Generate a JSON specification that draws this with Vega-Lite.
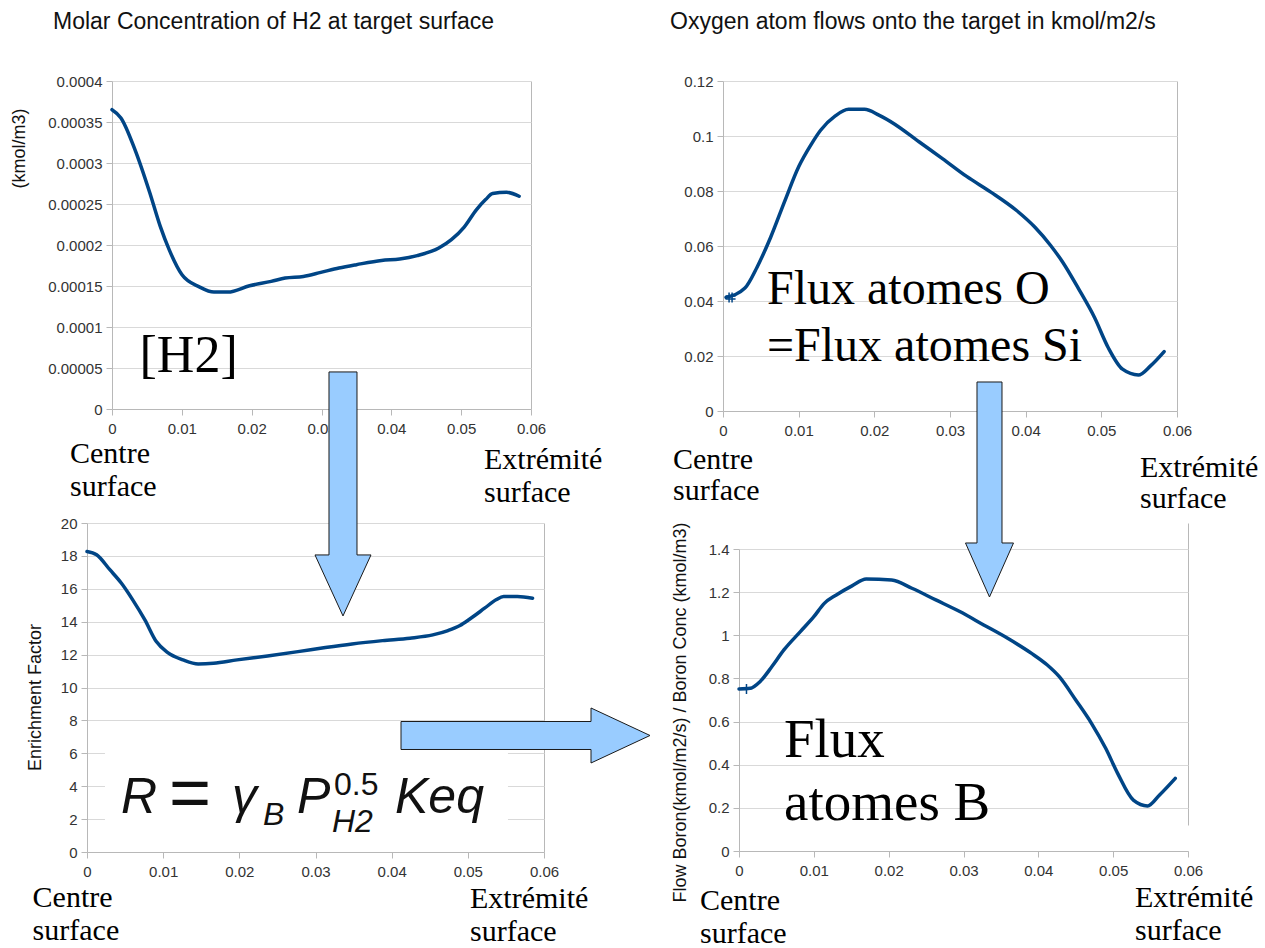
{
  "$schema": "https://vega.github.io/schema/vega-lite/v6.json",
  "autosize": {"type": "none"},
  "padding": {"left": 87, "top": 81, "right": 1178, "bottom": 867},
  "background": "white",
  "columns": 2,
  "spacing": {"row": 112, "column": 179},
  "bounds": "flush",
  "datasets": {
    "h2": [
      {"x": 0, "y": 0.000365}, {"x": 0.00128, "y": 0.000355}, {"x": 0.0033, "y": 0.000316}, {"x": 0.0054, "y": 0.000264},
      {"x": 0.0069, "y": 0.000223}, {"x": 0.0082, "y": 0.000194}, {"x": 0.01, "y": 0.000164}, {"x": 0.0125, "y": 0.000149},
      {"x": 0.0146, "y": 0.0001426}, {"x": 0.0166, "y": 0.0001426}, {"x": 0.0197, "y": 0.0001503}, {"x": 0.0228, "y": 0.0001556},
      {"x": 0.0248, "y": 0.0001597}, {"x": 0.0274, "y": 0.0001617}, {"x": 0.0299, "y": 0.0001666}, {"x": 0.0325, "y": 0.0001719},
      {"x": 0.035, "y": 0.000176}, {"x": 0.0386, "y": 0.0001812}, {"x": 0.0412, "y": 0.0001829}, {"x": 0.0437, "y": 0.000187},
      {"x": 0.0468, "y": 0.0001963}, {"x": 0.0486, "y": 0.0002065}, {"x": 0.0504, "y": 0.0002216}, {"x": 0.0522, "y": 0.0002432},
      {"x": 0.0535, "y": 0.0002554}, {"x": 0.0545, "y": 0.0002627}, {"x": 0.0565, "y": 0.0002643}, {"x": 0.0583, "y": 0.0002594}
    ],
    "o2": [
      {"x": 0.0004, "y": 0.0413}, {"x": 0.0029, "y": 0.0447}, {"x": 0.0045, "y": 0.0523}, {"x": 0.0063, "y": 0.0632},
      {"x": 0.0082, "y": 0.0766}, {"x": 0.01, "y": 0.0888}, {"x": 0.0116, "y": 0.0967}, {"x": 0.0129, "y": 0.1021},
      {"x": 0.0148, "y": 0.1072}, {"x": 0.0166, "y": 0.1097}, {"x": 0.0187, "y": 0.1097}, {"x": 0.0206, "y": 0.1076},
      {"x": 0.0227, "y": 0.1043}, {"x": 0.0259, "y": 0.0979}, {"x": 0.029, "y": 0.0918}, {"x": 0.0322, "y": 0.0853},
      {"x": 0.0354, "y": 0.0796}, {"x": 0.0388, "y": 0.0729}, {"x": 0.0412, "y": 0.0669}, {"x": 0.0433, "y": 0.0602},
      {"x": 0.0449, "y": 0.0541}, {"x": 0.047, "y": 0.0444}, {"x": 0.0491, "y": 0.034}, {"x": 0.0509, "y": 0.0231},
      {"x": 0.0528, "y": 0.0152}, {"x": 0.0549, "y": 0.0131}, {"x": 0.0565, "y": 0.0164}, {"x": 0.0583, "y": 0.0216}
    ],
    "ef": [
      {"x": 0, "y": 18.27}, {"x": 0.00126, "y": 18.07}, {"x": 0.003, "y": 17.16}, {"x": 0.0045, "y": 16.35},
      {"x": 0.006, "y": 15.33}, {"x": 0.0076, "y": 14.11}, {"x": 0.0091, "y": 12.79}, {"x": 0.0106, "y": 12.12},
      {"x": 0.0126, "y": 11.68}, {"x": 0.0146, "y": 11.43}, {"x": 0.0166, "y": 11.47}, {"x": 0.0197, "y": 11.68},
      {"x": 0.0237, "y": 11.92}, {"x": 0.0277, "y": 12.18}, {"x": 0.0313, "y": 12.43}, {"x": 0.0348, "y": 12.65},
      {"x": 0.0388, "y": 12.85}, {"x": 0.0424, "y": 13.0}, {"x": 0.0454, "y": 13.2}, {"x": 0.0474, "y": 13.46},
      {"x": 0.0489, "y": 13.75}, {"x": 0.0504, "y": 14.21}, {"x": 0.0522, "y": 14.82}, {"x": 0.0537, "y": 15.33},
      {"x": 0.0547, "y": 15.53}, {"x": 0.0565, "y": 15.53}, {"x": 0.0585, "y": 15.43}
    ],
    "bf": [
      {"x": 0, "y": 0.751}, {"x": 0.0015, "y": 0.754}, {"x": 0.0028, "y": 0.785}, {"x": 0.0044, "y": 0.855},
      {"x": 0.006, "y": 0.932}, {"x": 0.0082, "y": 1.017}, {"x": 0.01, "y": 1.086}, {"x": 0.0114, "y": 1.148},
      {"x": 0.013, "y": 1.187}, {"x": 0.0151, "y": 1.229}, {"x": 0.017, "y": 1.261}, {"x": 0.0204, "y": 1.256},
      {"x": 0.0231, "y": 1.218}, {"x": 0.0263, "y": 1.164}, {"x": 0.0295, "y": 1.11}, {"x": 0.0327, "y": 1.048},
      {"x": 0.0359, "y": 0.986}, {"x": 0.0391, "y": 0.916}, {"x": 0.0412, "y": 0.862}, {"x": 0.0428, "y": 0.808},
      {"x": 0.045, "y": 0.7}, {"x": 0.0471, "y": 0.592}, {"x": 0.049, "y": 0.476}, {"x": 0.0506, "y": 0.36},
      {"x": 0.0527, "y": 0.236}, {"x": 0.0546, "y": 0.209}, {"x": 0.0562, "y": 0.26}, {"x": 0.0583, "y": 0.337}
    ]
  },
  "concat": [
    {
      "width": 444, "height": 328,
      "encoding": {
        "x": {"field": "x", "type": "quantitative",
              "scale": {"domain": [0, 0.06], "range": [25, 444], "nice": false, "zero": false},
              "axis": {"title": null, "values": [0, 0.01, 0.02, 0.03, 0.04, 0.05, 0.06], "format": ".2~f", "labelPadding": 6,
                       "grid": true, "gridColor": "#b8b8b8", "gridOpacity": {"condition": {"test": "datum.value == 0.06", "value": 1}, "value": 0}}},
        "y": {"field": "y", "type": "quantitative",
              "scale": {"domain": [0, 0.0004], "nice": false, "zero": false},
              "axis": {"title": "(kmol/m3)", "offset": -25, "titlePadding": 19, "titleY": 67,
                       "values": [0, 0.00005, 0.0001, 0.00015, 0.0002, 0.00025, 0.0003, 0.00035, 0.0004], "format": ".5~f"}}
      },
      "layer": [
        {"data": {"name": "h2"}, "mark": {"type": "line", "color": "#004586", "strokeWidth": 3.5, "interpolate": "monotone", "strokeCap": "round"}},
        {"data": {"values": [{"x": -0.008449, "y": 0.00046305, "t": "Molar Concentration of H2 at target surface"}]},
         "mark": {"type": "text", "align": "left", "baseline": "alphabetic", "font": "Liberation Sans", "fontSize": 23, "color": "#111111"},
         "encoding": {"text": {"field": "t"}}},
        {"data": {"values": [{"x": 0.00394, "y": 0.0000451, "t": "[H2]"}]},
         "mark": {"type": "text", "align": "left", "baseline": "alphabetic", "font": "Liberation Serif", "fontSize": 52, "color": "#000000"},
         "encoding": {"text": {"field": "t"}}},
        {"data": {"values": [
          {"x": -0.006014, "y": -0.0000659, "t": "Centre"}, {"x": -0.006014, "y": -0.0001061, "t": "surface"},
          {"x": 0.05327, "y": -0.0000732, "t": "Extrémité"}, {"x": 0.05327, "y": -0.0001134, "t": "surface"}]},
         "mark": {"type": "text", "align": "left", "baseline": "alphabetic", "font": "Liberation Serif", "fontSize": 30, "color": "#000000"},
         "encoding": {"text": {"field": "t"}}}
      ]
    },
    {
      "width": 454, "height": 330,
      "encoding": {
        "x": {"field": "x", "type": "quantitative",
              "scale": {"domain": [0, 0.06], "nice": false, "zero": false},
              "axis": {"title": null, "values": [0, 0.01, 0.02, 0.03, 0.04, 0.05, 0.06], "format": ".2~f", "labelPadding": 6,
                       "grid": true, "gridColor": "#b8b8b8", "gridOpacity": {"condition": {"test": "datum.value == 0.06", "value": 1}, "value": 0}}},
        "y": {"field": "y", "type": "quantitative",
              "scale": {"domain": [0, 0.12], "nice": false, "zero": false},
              "axis": {"title": null, "values": [0, 0.02, 0.04, 0.06, 0.08, 0.1, 0.12], "format": ".2~f"}}
      },
      "layer": [
        {"data": {"name": "o2"}, "mark": {"type": "line", "color": "#004586", "strokeWidth": 3.5, "interpolate": "monotone", "strokeCap": "round"}},
        {"data": {"values": [{"x": 0.001, "y": 0.0413}]},
         "mark": {"type": "point", "shape": "M-1,-0.3L1,-0.3M-1,0.3L1,0.3M-0.3,-1L-0.3,1M0.3,-1L0.3,1", "size": 100,
                  "filled": false, "stroke": "#004586", "strokeWidth": 1.5, "opacity": 1}},
        {"data": {"values": [{"x": -0.0070044, "y": 0.1388, "t": "Oxygen atom flows onto the target in kmol/m2/s"}]},
         "mark": {"type": "text", "align": "left", "baseline": "alphabetic", "font": "Liberation Sans", "fontSize": 23, "color": "#111111"},
         "encoding": {"text": {"field": "t"}}},
        {"data": {"values": [{"x": 0.005815, "y": 0.03891, "t": "Flux atomes O"}, {"x": 0.005815, "y": 0.01818, "t": "=Flux atomes Si"}]},
         "mark": {"type": "text", "align": "left", "baseline": "alphabetic", "font": "Liberation Serif", "fontSize": 48, "color": "#000000"},
         "encoding": {"text": {"field": "t"}}},
        {"data": {"values": [
          {"x": -0.006608, "y": -0.02109, "t": "Centre"}, {"x": -0.006608, "y": -0.03236, "t": "surface"},
          {"x": 0.05511, "y": -0.024, "t": "Extrémité"}, {"x": 0.05511, "y": -0.03527, "t": "surface"}]},
         "mark": {"type": "text", "align": "left", "baseline": "alphabetic", "font": "Liberation Serif", "fontSize": 30, "color": "#000000"},
         "encoding": {"text": {"field": "t"}}}
      ]
    },
    {
      "width": 457, "height": 329,
      "encoding": {
        "x": {"field": "x", "type": "quantitative",
              "scale": {"domain": [0, 0.06], "nice": false, "zero": false},
              "axis": {"title": null, "values": [0, 0.01, 0.02, 0.03, 0.04, 0.05, 0.06], "format": ".2~f", "labelPadding": 6,
                       "grid": true, "gridColor": "#b8b8b8", "gridOpacity": {"condition": {"test": "datum.value == 0.06", "value": 1}, "value": 0}}},
        "y": {"field": "y", "type": "quantitative",
              "scale": {"domain": [0, 20], "nice": false, "zero": false},
              "axis": {"title": "Enrichment Factor", "titlePadding": 16, "titleY": 174,
                       "values": [0, 2, 4, 6, 8, 10, 12, 14, 16, 18, 20], "format": "~g"}}
      },
      "layer": [
        {"data": {"values": [{"x": 0.00236, "x2": 0.05527, "y": 0.85, "y2": 6.35}]},
         "mark": {"type": "rect", "color": "#ffffff", "opacity": 1},
         "encoding": {"x2": {"field": "x2"}, "y2": {"field": "y2"}}},
        {"data": {"name": "ef"}, "mark": {"type": "line", "color": "#004586", "strokeWidth": 3.5, "interpolate": "monotone", "strokeCap": "round"}},
        {"data": {"values": [
          {"x": 0.004464, "y": 2.371, "t": "R"}, {"x": 0.019037, "y": 2.371, "t": "γ"},
          {"x": 0.02757, "y": 2.371, "t": "P"}, {"x": 0.040437, "y": 2.371, "t": "Keq"}]},
         "mark": {"type": "text", "align": "left", "baseline": "alphabetic", "font": "Liberation Sans", "fontStyle": "italic", "fontSize": 50, "color": "#111111"},
         "encoding": {"text": {"field": "t"}}},
        {"data": {"values": [{"x": 0.010766, "y": 2.15, "t": "="}]},
         "mark": {"type": "text", "align": "left", "baseline": "alphabetic", "font": "Liberation Sans", "fontSize": 72, "color": "#111111"},
         "encoding": {"text": {"field": "t"}}},
        {"data": {"values": [
          {"x": 0.023107, "y": 1.641, "t": "B"}, {"x": 0.032166, "y": 1.216, "t": "H2"}]},
         "mark": {"type": "text", "align": "left", "baseline": "alphabetic", "font": "Liberation Sans", "fontStyle": "italic", "fontSize": 32, "color": "#111111"},
         "encoding": {"text": {"field": "t"}}},
        {"data": {"values": [{"x": 0.032429, "y": 3.465, "t": "0.5"}]},
         "mark": {"type": "text", "align": "left", "baseline": "alphabetic", "font": "Liberation Sans", "fontSize": 32, "color": "#111111"},
         "encoding": {"text": {"field": "t"}}},
        {"data": {"values": [
          {"x": -0.007142, "y": -3.343, "t": "Centre"}, {"x": -0.007142, "y": -5.35, "t": "surface"},
          {"x": 0.050284, "y": -3.404, "t": "Extrémité"}, {"x": 0.050284, "y": -5.41, "t": "surface"}]},
         "mark": {"type": "text", "align": "left", "baseline": "alphabetic", "font": "Liberation Serif", "fontSize": 30, "color": "#000000"},
         "encoding": {"text": {"field": "t"}}},
        {"data": {"values": [{"x": 0.03361, "y": 14.35}]},
         "mark": {"type": "point", "shape": "M-14,-244L14,-244L14,-61L28,-61L0,0L-28,-61L-14,-61Z", "size": 4,
                  "filled": true, "fill": "#99ccff", "stroke": "#1a1a1a", "strokeWidth": 1, "opacity": 1, "fillOpacity": 1}}
      ]
    },
    {
      "width": 465, "height": 328,
      "encoding": {
        "x": {"field": "x", "type": "quantitative",
              "scale": {"domain": [0, 0.06], "range": [16, 465], "nice": false, "zero": false},
              "axis": {"title": null, "values": [0, 0.01, 0.02, 0.03, 0.04, 0.05, 0.06], "format": ".2~f", "labelPadding": 6,
                       "grid": true, "gridColor": "#b8b8b8", "gridOpacity": {"condition": {"test": "datum.value == 0.06", "value": 1}, "value": 0}}},
        "y": {"field": "y", "type": "quantitative",
              "scale": {"domain": [0, 1.4], "range": [328, 26], "nice": false, "zero": false},
              "axis": {"title": "Flow Boron(kmol/m2/s) / Boron Conc (kmol/m3)", "offset": -16, "titlePadding": 19, "titleY": 189,
                       "values": [0, 0.2, 0.4, 0.6, 0.8, 1, 1.2, 1.4], "format": "~g"}}
      },
      "layer": [
        {"data": {"name": "bf"}, "mark": {"type": "line", "color": "#004586", "strokeWidth": 3.5, "interpolate": "monotone", "strokeCap": "round"}},
        {"data": {"values": [{"x": 0.001, "y": 0.751}]},
         "mark": {"type": "point", "shape": "M-1,0L1,0M0,-1L0,1", "size": 100,
                  "filled": false, "stroke": "#004586", "strokeWidth": 1.5, "opacity": 1}},
        {"data": {"values": [{"x": 0.006013, "y": 0.4358, "t": "Flux"}, {"x": 0.006013, "y": 0.1437, "t": "atomes B"}]},
         "mark": {"type": "text", "align": "left", "baseline": "alphabetic", "font": "Liberation Serif", "fontSize": 55, "color": "#000000"},
         "encoding": {"text": {"field": "t"}}},
        {"data": {"values": [
          {"x": -0.005212, "y": -0.2735, "t": "Centre"}, {"x": -0.005212, "y": -0.4265, "t": "surface"},
          {"x": 0.052918, "y": -0.2596, "t": "Extrémité"}, {"x": 0.052918, "y": -0.4126, "t": "surface"}]},
         "mark": {"type": "text", "align": "left", "baseline": "alphabetic", "font": "Liberation Serif", "fontSize": 30, "color": "#000000"},
         "encoding": {"text": {"field": "t"}}},
        {"data": {"values": [{"x": 0.033474, "y": 1.1775}]},
         "mark": {"type": "point", "shape": "M-12.5,-215L12.5,-215L12.5,-54L24,-54L0,0L-24,-54L-12.5,-54Z", "size": 4,
                  "filled": true, "fill": "#99ccff", "stroke": "#1a1a1a", "strokeWidth": 1, "opacity": 1, "fillOpacity": 1}},
        {"data": {"values": [{"x": -0.011893, "y": 0.53544}]},
         "mark": {"type": "point", "shape": "M-249,-14L-59,-14L-59,-27.5L0,0L-59,27.5L-59,14L-249,14Z", "size": 4,
                  "filled": true, "fill": "#99ccff", "stroke": "#1a1a1a", "strokeWidth": 1, "opacity": 1, "fillOpacity": 1}}
      ]
    }
  ],
  "config": {
    "view": {"stroke": null},
    "axis": {
      "domainColor": "#b8b8b8", "tickColor": "#b8b8b8", "gridColor": "#d9d9d9",
      "tickSize": 6, "labelPadding": 4,
      "labelFont": "Liberation Sans", "labelFontSize": 15, "labelColor": "#333333",
      "titleFont": "Liberation Sans", "titleFontSize": 18, "titleFontWeight": "normal", "titleColor": "#111111",
      "labelFlush": false, "labelOverlap": false
    }
  }
}
